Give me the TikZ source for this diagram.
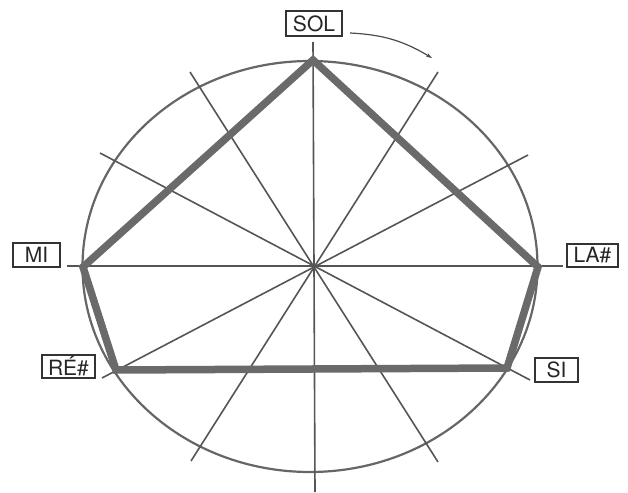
\documentclass[tikz,border=0pt]{standalone}
\usepackage{fontspec}
\setmainfont{TeX Gyre Heros}
\usetikzlibrary{arrows.meta}
\definecolor{spoke}{HTML}{555555}
\definecolor{rim}{HTML}{666666}
\definecolor{poly}{HTML}{6A6A6A}
\tikzset{
  notebox/.style={draw=black!80, line width=1.3pt, fill=white, inner sep=0pt,
    font=\fontsize{21}{21}\selectfont, text=black!85},
  spokeline/.style={draw=spoke, line width=1.6pt},
  rimline/.style={draw=rim, line width=2.2pt},
  polyline/.style={draw=poly, line width=7.5pt, line join=miter},
}
\begin{document}
\begin{tikzpicture}[x=1pt,y=-1pt]
\useasboundingbox (0,0) rectangle (628,492);
% ellipse
\draw[rimline] (310,266.5) ellipse [x radius=227.5pt, y radius=205.5pt];
% spoke endpoints
\coordinate (v1) at (313,42);   \coordinate (v2) at (315,492);
\coordinate (h1) at (67,266);   \coordinate (h2) at (563,266);
\coordinate (a1) at (190,72);   \coordinate (a2) at (438,462);
\coordinate (b1) at (438,72);   \coordinate (b2) at (191,461);
\coordinate (c1) at (100,153);  \coordinate (c2) at (530,380);
\coordinate (d1) at (528,155);  \coordinate (d2) at (102,378);
\draw[spokeline] (v1) -- (v2);
\draw[spokeline] (h1) -- (h2);
\draw[spokeline] (a1) -- (a2);
\draw[spokeline] (b1) -- (b2);
\draw[spokeline] (c1) -- (c2);
\draw[spokeline] (d1) -- (d2);
% pentagon vertices
\coordinate (pSOL) at (313,60);
\coordinate (pLA) at (538,267);
\coordinate (pSI) at (507,368);
\coordinate (pRE) at (116,370);
\coordinate (pMI) at (83,267);
\draw[polyline] (pSOL) -- (pLA) -- (pSI) -- (pRE) -- (pMI) -- cycle;
% labels
\node[notebox, minimum width=56pt, minimum height=25pt] (SOL) at (314,23.5) {SOL};
\node[notebox, minimum width=47pt, minimum height=24pt] (MI) at (36.5,255) {MI};
\node[notebox, minimum width=53pt, minimum height=23pt] (RE) at (68.5,366.5) {RÉ\#};
\node[notebox, minimum width=51pt, minimum height=23pt] (LA) at (592.5,255.5) {LA\#};
\node[notebox, minimum width=43pt, minimum height=24pt] (SI) at (556.5,370) {SI};
% rotation arrow
\coordinate (arrS) at (350,33);
\coordinate (arrE) at (432,58);
\draw[draw=black!70, line width=1.2pt, -{Stealth[length=6pt,width=4pt]}] (arrS) to[bend left=14] (arrE);
\end{tikzpicture}
\end{document}
